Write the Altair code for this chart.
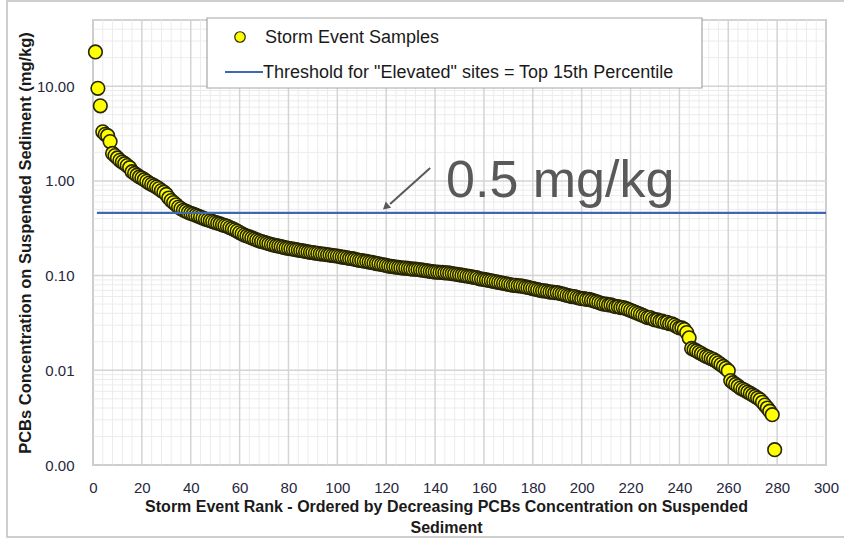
import altair as alt
import pandas as pd

# ---------------- data ----------------
ranks = list(range(1, 280))

conc_001_050 = [23.0, 9.5, 6.2, 3.3, 3.1, 3.0, 2.6, 1.95, 1.85, 1.75,
                1.65, 1.58, 1.52, 1.45, 1.38, 1.25, 1.2, 1.15, 1.1, 1.07,
                1.03, 0.99, 0.95, 0.92, 0.89, 0.86, 0.83, 0.79, 0.76, 0.72,
                0.66, 0.62, 0.59, 0.56, 0.53, 0.51, 0.49, 0.48, 0.465, 0.455,
                0.445, 0.435, 0.425, 0.415, 0.405, 0.395, 0.388, 0.38, 0.372, 0.365]
conc_051_100 = [0.358, 0.351, 0.344, 0.338, 0.331, 0.322, 0.313, 0.304, 0.295, 0.285,
                0.276, 0.268, 0.262, 0.256, 0.25, 0.244, 0.238, 0.233, 0.229, 0.225,
                0.221, 0.217, 0.213, 0.21, 0.207, 0.205, 0.202, 0.199, 0.196, 0.194,
                0.192, 0.19, 0.188, 0.186, 0.184, 0.182, 0.18, 0.178, 0.176, 0.175,
                0.173, 0.172, 0.17, 0.169, 0.168, 0.166, 0.165, 0.163, 0.162, 0.161]
conc_101_150 = [0.159, 0.157, 0.156, 0.154, 0.152, 0.151, 0.149, 0.147, 0.145, 0.144,
                0.142, 0.141, 0.139, 0.138, 0.136, 0.134, 0.133, 0.131, 0.13, 0.128,
                0.126, 0.125, 0.124, 0.123, 0.122, 0.121, 0.12, 0.12, 0.119, 0.118,
                0.117, 0.117, 0.116, 0.115, 0.114, 0.113, 0.112, 0.111, 0.11, 0.109,
                0.109, 0.108, 0.108, 0.107, 0.107, 0.106, 0.105, 0.104, 0.103, 0.102]
conc_151_200 = [0.101, 0.1, 0.099, 0.098, 0.097, 0.096, 0.095, 0.093, 0.092, 0.091,
                0.09, 0.089, 0.088, 0.087, 0.086, 0.085, 0.084, 0.083, 0.082, 0.081,
                0.08, 0.079, 0.079, 0.078, 0.078, 0.077, 0.076, 0.075, 0.074, 0.073,
                0.072, 0.071, 0.07, 0.069, 0.069, 0.068, 0.067, 0.067, 0.066, 0.066,
                0.065, 0.064, 0.063, 0.062, 0.061, 0.06, 0.06, 0.059, 0.058, 0.057]
conc_201_250 = [0.057, 0.056, 0.056, 0.055, 0.054, 0.053, 0.052, 0.051, 0.05, 0.05,
                0.049, 0.049, 0.048, 0.047, 0.047, 0.046, 0.046, 0.045, 0.044, 0.043,
                0.042, 0.041, 0.04, 0.039, 0.038, 0.037, 0.036, 0.036, 0.035, 0.034,
                0.034, 0.033, 0.033, 0.032, 0.032, 0.031, 0.031, 0.03, 0.029, 0.028,
                0.028, 0.027, 0.025, 0.022, 0.017, 0.0165, 0.016, 0.0155, 0.015, 0.0145]
conc_251_279 = [0.014, 0.0137, 0.0133, 0.013, 0.0125, 0.012, 0.0115, 0.011, 0.0105, 0.0099,
                0.0078, 0.0074, 0.0071, 0.0068, 0.0065, 0.0063, 0.0061, 0.0059, 0.0057, 0.0055,
                0.0053, 0.0051, 0.0049, 0.0046, 0.0043, 0.004, 0.0037, 0.0034, 0.00145]

conc = conc_001_050 + conc_051_100 + conc_101_150 + conc_151_200 + conc_201_250 + conc_251_279

threshold_value = 0.46
threshold_x = [1.6, 300]

x_major = list(range(0, 301, 20))
x_minor = [v for v in range(0, 301, 4) if v % 20 != 0]
y_major = [0.001, 0.01, 0.1, 1, 10]
y_minor = [m * 10 ** e for e in range(-3, 2) for m in range(2, 10) if m * 10 ** e <= 50]

series_label = "Storm Event Samples"
threshold_label = 'Threshold for "Elevated" sites = Top 15th Percentile'
annotation_text = "0.5 mg/kg"
x_title = ["Storm Event Rank - Ordered by Decreasing PCBs Concentration on Suspended",
           "Sediment"]
y_title = "PCBs Concentration on Suspended Sediment (mg/kg)"

# annotation anchor in data coordinates
arrow_from = (138, 1.37)
arrow_to = (121.6, 0.57)
arrow_tip = (119.8, 0.53)
annot_pos = (144.5, 0.68)

# ---------------- chart ----------------
FONT = "Liberation Sans"
df = pd.DataFrame({"rank": ranks, "conc": conc})

xs = alt.Scale(domain=[0, 300], nice=False, zero=False)
ys = alt.Scale(type="log", domain=[0.001, 50], nice=False)

x_axis = alt.Axis(values=x_major, grid=False, ticks=False, domain=False, labelFlush=False,
                  labelFontSize=15, labelPadding=15, labelColor="#262640",
                  labelFont=FONT, title=x_title, titleFont=FONT, titleFontSize=16,
                  titleFontWeight="bold", titleColor="#1a1a1a", titleLineHeight=21,
                  titleX=353, titleY=33, titleAnchor="middle", titleBaseline="top")
y_axis = alt.Axis(values=y_major, format=".2f", grid=False, ticks=False, domain=False,
                  labelFontSize=15, labelPadding=19, labelColor="#262640",
                  labelFont=FONT, title=y_title, titleFont=FONT, titleFontSize=16.5,
                  titleFontWeight="bold", titleColor="#1a1a1a", titlePadding=3)


def X(field):
    return alt.X(field, scale=xs, axis=x_axis)


def Y(field):
    return alt.Y(field, scale=ys, axis=y_axis)


one = pd.DataFrame({"k": [0]})

frame = alt.Chart(one).mark_rect(fill=None, stroke="#bfbfbf", strokeWidth=1.5).encode(
    x=alt.value(-86), x2=alt.value(770), y=alt.value(-19), y2=alt.value(517))

gx_minor = alt.Chart(pd.DataFrame({"v": x_minor})).mark_rule(color="#ececec", strokeWidth=1).encode(
    x=X("v:Q"))
gy_minor = alt.Chart(pd.DataFrame({"v": y_minor})).mark_rule(color="#ececec", strokeWidth=1).encode(
    y=Y("v:Q"))
gx_major = alt.Chart(pd.DataFrame({"v": x_major})).mark_rule(color="#d4d4d4", strokeWidth=1.5).encode(
    x=X("v:Q"))
gy_major = alt.Chart(pd.DataFrame({"v": y_major})).mark_rule(color="#d4d4d4", strokeWidth=1.5).encode(
    y=Y("v:Q"))

points = alt.Chart(df).mark_point(
    shape="circle", filled=True, fill="#ffff00", stroke="#262606", strokeWidth=1.6,
    size=185, opacity=1).encode(
    x=X("rank:Q"),
    y=Y("conc:Q"),
)

thr = alt.Chart(pd.DataFrame({"x": [threshold_x[0]], "x2": [threshold_x[1]],
                              "y": [threshold_value]})).mark_rule(
    color="#4068b0", strokeWidth=2.2).encode(
    x=X("x:Q"), x2="x2:Q", y=Y("y:Q"))

arrow_line = alt.Chart(pd.DataFrame({"x": [arrow_from[0]], "x2": [arrow_to[0]],
                                     "y": [arrow_from[1]], "y2": [arrow_to[1]]})).mark_rule(
    color="#595959", strokeWidth=2).encode(
    x=X("x:Q"), x2="x2:Q", y=Y("y:Q"), y2="y2:Q")
arrow_head = alt.Chart(pd.DataFrame({"x": [arrow_tip[0]], "y": [arrow_tip[1]]})).mark_point(
    shape="triangle-up", filled=True, color="#595959", size=70, angle=229, opacity=1).encode(
    x=X("x:Q"), y=Y("y:Q"))
annot = alt.Chart(pd.DataFrame({"x": [annot_pos[0]], "y": [annot_pos[1]],
                                "t": [annotation_text]})).mark_text(
    align="left", baseline="alphabetic", font=FONT, fontSize=52, color="#595959").encode(
    x=X("x:Q"), y=Y("y:Q"), text="t:N")

# legend box (drawn at the reference's legend position)
leg_box = alt.Chart(one).mark_rect(fill="white", stroke="#a6a6a6", strokeWidth=1.2).encode(
    x=alt.value(114), x2=alt.value(609), y=alt.value(-2), y2=alt.value(68))
leg_dot = alt.Chart(one).mark_point(shape="circle", filled=True, fill="#ffff00",
                                    stroke="#262606", strokeWidth=1.2, size=110, opacity=1).encode(
    x=alt.value(147), y=alt.value(17))
leg_line = alt.Chart(one).mark_rule(color="#4068b0", strokeWidth=2.2).encode(
    x=alt.value(132), x2=alt.value(170), y=alt.value(52))
leg_t1 = alt.Chart(pd.DataFrame({"t": [series_label]})).mark_text(
    align="left", baseline="middle", font=FONT, fontSize=18, color="#1a1a1a").encode(
    x=alt.value(172), y=alt.value(18), text="t:N")
leg_t2 = alt.Chart(pd.DataFrame({"t": [threshold_label]})).mark_text(
    align="left", baseline="middle", font=FONT, fontSize=18, color="#1a1a1a").encode(
    x=alt.value(170), y=alt.value(53), text="t:N")

chart = alt.layer(
    frame, gx_minor, gy_minor, gx_major, gy_major, points, thr,
    arrow_line, arrow_head, annot, leg_box, leg_dot, leg_line, leg_t1, leg_t2
).properties(
    width=733, height=445,
    autosize=alt.AutoSizeParams(type="none"),
    padding={"left": 93, "top": 20, "right": 18, "bottom": 75},
    background="white",
).configure_view(stroke="#a6a6a6", strokeWidth=1.6)

chart.save("out.html", embed_options={"renderer": "svg", "actions": False})
